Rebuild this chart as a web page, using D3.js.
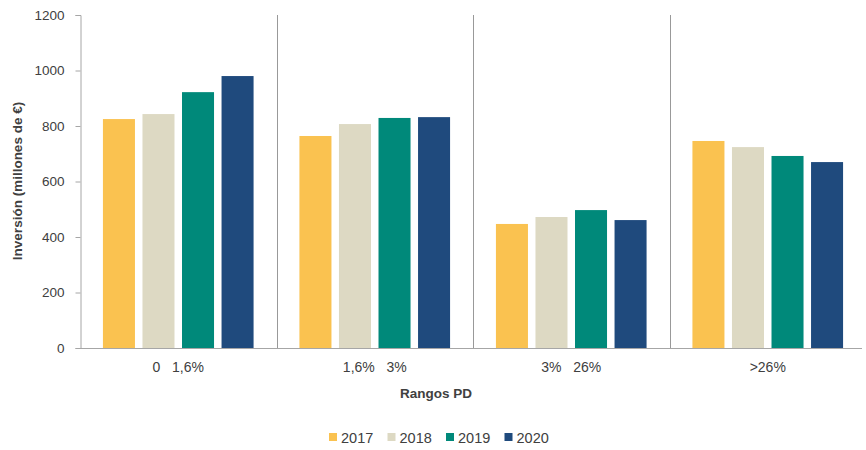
<!DOCTYPE html>
<html>
<head>
<meta charset="utf-8">
<script src="https://cdn.jsdelivr.net/npm/d3@7"></script>
<style>
  body { margin: 0; background: #fff; }
  text { font-family: "Liberation Sans", Arial, sans-serif; fill: #404040; }
</style>
</head>
<body>
<script>
// datos
const categorias = ["0   1,6%", "1,6%   3%", "3%   26%", ">26%"];
const anios = ["2017", "2018", "2019", "2020"];
const v2017 = [825, 764, 447, 746];
const v2018 = [843, 807, 472, 724];
const v2019 = [922, 829, 497, 692];
const v2020 = [980, 832, 461, 670];
const yTicks = [0, 200, 400, 600, 800, 1000, 1200];
const colores = ["#FAC250", "#DDD9C3", "#00897A", "#1F4A7D"];

const series = [v2017, v2018, v2019, v2020];
const tabla = categorias.map((c, i) => ({ cat: c, vals: anios.map((a, j) => ({ anio: a, v: series[j][i] })) }));

const WIDTH = 866, HEIGHT = 450;
const mIzq = 80, mDer = 866, mSup = 15, mInf = 348;

const svg = d3.select("body").append("svg").attr("width", WIDTH).attr("height", HEIGHT);

const x0 = d3.scaleBand().domain(categorias).range([mIzq, mDer]).padding(0);
const x1 = d3.scaleBand().domain(anios).range([0, x0.bandwidth()]).paddingInner(0.19).paddingOuter(0.58);
const y = d3.scaleLinear().domain([0, 1200]).range([mInf, mSup]);
const color = d3.scaleOrdinal().domain(anios).range(colores);

// barras
svg.append("g").selectAll("g")
  .data(tabla)
  .enter().append("g")
  .attr("transform", d => "translate(" + x0(d.cat) + ",0)")
  .selectAll("rect")
  .data(d => d.vals)
  .enter().append("rect")
  .attr("x", d => x1(d.anio))
  .attr("y", d => y(d.v))
  .attr("width", x1.bandwidth())
  .attr("height", d => mInf - y(d.v))
  .attr("fill", d => color(d.anio));

// separadores de categorias
svg.append("g").selectAll("line")
  .data(categorias.slice(1))
  .enter().append("line")
  .attr("x1", d => Math.round(x0(d)) + 0.5)
  .attr("x2", d => Math.round(x0(d)) + 0.5)
  .attr("y1", mSup)
  .attr("y2", mInf)
  .attr("stroke", "#999")
  .attr("stroke-width", 1);

// eje y
const yAxis = svg.append("g")
  .attr("transform", "translate(" + (mIzq + 0.5) + ",0)")
  .call(d3.axisLeft(y).tickValues(yTicks).tickSize(5).tickPadding(11).tickFormat(d3.format("d")));
yAxis.select(".domain").attr("stroke", "#a6a6a6");
yAxis.selectAll(".tick line").attr("stroke", "#a6a6a6");
yAxis.selectAll("text").style("font-size", "13.5px").attr("fill", "#404040");

// eje x
const xAxis = svg.append("g")
  .attr("transform", "translate(0," + (mInf + 0.5) + ")")
  .call(d3.axisBottom(x0).tickSize(0).tickPadding(14));
xAxis.select(".domain").attr("stroke", "#a6a6a6").attr("d", "M" + mIzq + ",0H" + (mDer - 4));
xAxis.selectAll("text").style("font-size", "14px").attr("fill", "#404040").style("white-space", "pre");

// titulos
svg.append("text")
  .attr("x", 436).attr("y", 398)
  .attr("text-anchor", "middle")
  .style("font-size", "13.5px").style("font-weight", "bold").attr("fill", "#000")
  .text("Rangos PD");

svg.append("text")
  .attr("transform", "translate(22,181) rotate(-90)")
  .attr("text-anchor", "middle")
  .style("font-size", "13.5px").style("font-weight", "bold").attr("fill", "#000")
  .text("Inversión (millones de €)");

// leyenda
const leg = svg.append("g").selectAll("g")
  .data(anios)
  .enter().append("g")
  .attr("transform", (d, i) => "translate(" + (329 + i * 58.5) + ",433)");
leg.append("rect").attr("width", 8).attr("height", 8).attr("fill", d => color(d));
leg.append("text").attr("x", 12).attr("y", 9.5).style("font-size", "14.5px").attr("fill", "#404040").text(d => d);
</script>
</body>
</html>
